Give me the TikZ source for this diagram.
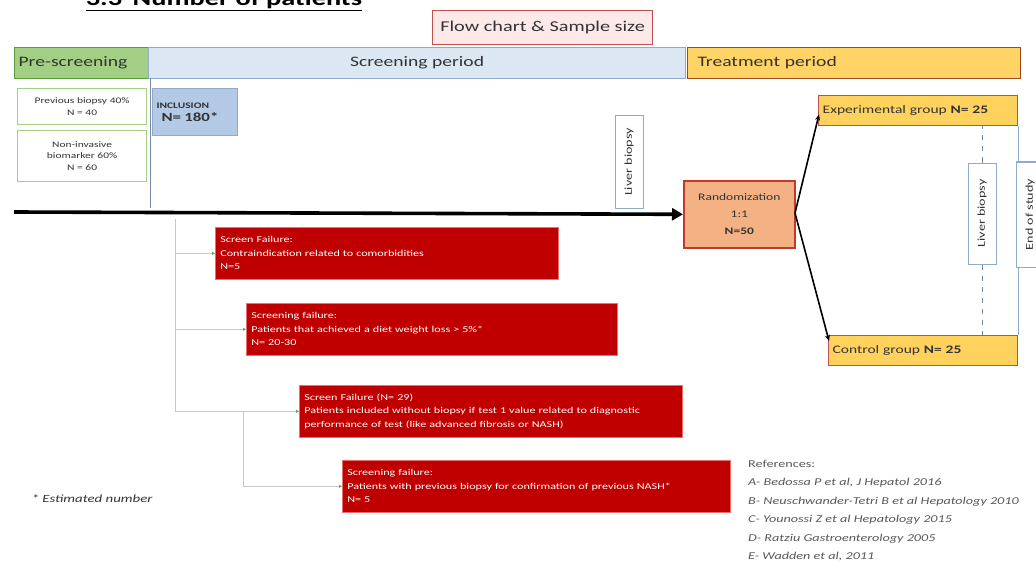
\documentclass[tikz,border=0pt]{standalone}
\usepackage{fontspec}
\setmainfont{Carlito}[FakeStretch=1.35]
\usetikzlibrary{calc,arrows.meta}
\definecolor{preF}{HTML}{A3CF85}
\definecolor{preD}{HTML}{5E9A3C}
\definecolor{scrF}{HTML}{DCE7F4}
\definecolor{scrD}{HTML}{90AACB}
\definecolor{trtF}{HTML}{FFD366}
\definecolor{trtD}{HTML}{9A4A1E}
\definecolor{flwF}{HTML}{FCE9E8}
\definecolor{flwD}{HTML}{C0504D}
\definecolor{incF}{HTML}{B4C9E6}
\definecolor{rndF}{HTML}{F4B183}
\definecolor{rndD}{HTML}{C0392B}
\definecolor{grpF}{HTML}{FFD25E}
\definecolor{redF}{HTML}{C00000}
\definecolor{redD}{HTML}{E87070}
\definecolor{conn}{HTML}{C8C8C8}
\definecolor{tipG}{HTML}{6AA84F}
\definecolor{txtD}{HTML}{333333}
\begin{document}
\begin{tikzpicture}[x=1pt,y=-1pt,
  basebox/.style={draw, anchor=north west, line width=1.2pt, inner sep=4pt},
  hdr/.style={basebox, minimum height=31pt, font=\fontsize{14.5}{16}\selectfont, text=txtD},
  greenbox/.style={basebox, draw=preF, fill=white, line width=1.2pt, align=center, font=\fontsize{8.5}{11.5}\selectfont, text=txtD},
  redbox/.style={basebox, draw=redD, fill=redF, line width=0.6pt, inner sep=5pt, align=left, text=white, minimum height=52pt, font=\fontsize{9}{13.5}\selectfont},
  grpbox/.style={basebox, draw=flwD, fill=grpF, line width=1.4pt, minimum height=30pt, align=left, font=\fontsize{11.5}{13}\selectfont, text=txtD},
  vbox/.style={draw=scrD, fill=white, line width=1pt, rotate=90, minimum height=28pt, inner sep=2pt, font=\fontsize{10.5}{12}\selectfont, text=txtD},
  gconn/.style={draw=conn, line width=0.8pt, -{Triangle[length=3pt,width=3pt,color=tipG]}},
  bconn/.style={draw=black, line width=1.6pt, -{Stealth[length=6pt,width=5pt]}}
]
\useasboundingbox (0,0) rectangle (1036,567);
\fill[white] (0,0) rectangle (1036,567);

% title (cut at top, as in the source)
\node[anchor=base, font=\fontsize{21}{22}\selectfont\bfseries, text=black] (title) at (224,6) {\underline{3.3\enspace Number of patients}};

% flow chart label
\node[basebox, draw=flwD, fill=flwF, line width=1.2pt, minimum width=220pt, minimum height=34pt, font=\fontsize{15}{17}\selectfont, text=txtD] (flow) at (432,10) {Flow chart \& Sample size};

% headers
\node[hdr, draw=preD, fill=preF, text width=126pt, align=left] (pre) at (14,47) {Pre-screening};
\node[hdr, draw=scrD, fill=scrF, minimum width=537pt, align=center] (scr) at (148,47) {Screening period};
\node[hdr, draw=trtD, fill=trtF, text width=325pt, align=left] (trt) at (687,47) {\hspace{6pt}Treatment period};

% left boxes
\node[greenbox, minimum width=129pt, minimum height=36pt] (prev) at (17,88) {Previous biopsy 40\%\\N = 40};
\node[greenbox, minimum width=129pt, minimum height=51pt] (noninv) at (17,130) {Non-invasive\\biomarker 60\%\\N = 60};

% separator
\coordinate (sepT) at (150,78);
\coordinate (sepB) at (150,208);
\draw[draw=scrD!80!black, line width=0.8pt] (sepT) -- (sepB);

% inclusion
\node[basebox, draw=scrD, fill=incF, line width=1pt, minimum width=85pt, minimum height=47pt, text width=77pt, align=left, inner sep=4pt, text=txtD] (incl) at (152,88)
  {{\fontsize{8.5}{10}\selectfont\bfseries INCLUSION}\\[1pt]{\fontsize{12.5}{14}\selectfont\bfseries \hspace{5pt}N= 180*}};

% liver biopsy 1
\node[vbox, minimum width=92pt] (lb1) at (629,162) {Liver biopsy};

% randomization
\node[basebox, draw=rndD, fill=rndF, line width=1.6pt, minimum width=111pt, minimum height=67pt, align=center, font=\fontsize{10}{17}\selectfont, text=txtD] (rand) at (683,180) {Randomization\\1:1\\\textbf{N=50}};

% main arrow
\coordinate (mstart) at (14,212);
\draw[line width=3.6pt, -{Triangle[length=11pt,width=12pt]}] (mstart) -- (rand.west);

% groups
\node[grpbox, text width=191pt] (exp) at (818,95) {Experimental group \textbf{N= 25}};
\node[grpbox, text width=181pt] (ctrl) at (828,335) {Control group \textbf{N= 25}};

% branch lines
\coordinate (split) at (795,213);
\draw[bconn] (split) -- ($(exp.south west)+(1,-12)$);
\draw[bconn] (split) -- ($(ctrl.north west)+(1,6)$);

% liver biopsy 2 with dashed line
\node[vbox, minimum width=101pt] (lb2) at (982,213.5) {Liver biopsy};
\draw[draw=scrD!80!black, line width=0.9pt, dash pattern=on 5pt off 6pt] (lb2.east) -- (lb2.east |- exp.south);
\draw[draw=scrD!80!black, line width=0.9pt, dash pattern=on 5pt off 6pt] (lb2.west) -- (lb2.west |- ctrl.north);

% end of study
\draw[draw=scrD, line width=1pt] (exp.south east) -- (ctrl.north east);
\node[vbox, minimum width=105pt] (eos) at (1030,214.5) {End of study};

% screen failure boxes
\node[redbox, text width=333pt] (f1) at (215,227) {Screen Failure:\\Contraindication related to comorbidities\\N=5};
\node[redbox, text width=361pt] (f2) at (246,303) {Screening failure:\\Patients that achieved a diet weight loss \textgreater{} 5\%*\\N= 20-30};
\node[redbox, text width=373pt] (f3) at (299,385) {Screen Failure (N= 29)\\Patients included without biopsy if test 1 value related to diagnostic\\performance of test (like advanced fibrosis or NASH)};
\node[redbox, text width=378pt] (f4) at (342,460) {Screening failure:\\Patients with previous biopsy for confirmation of previous NASH*\\N= 5};

% green connectors
\coordinate (v1) at (175,219);
\coordinate (v2) at (243,412);
\draw[draw=conn, line width=0.8pt] (v1) -- (v1 |- f3.west);
\draw[gconn] (v1 |- f1.west) -- (f1.west);
\draw[gconn] (v1 |- f2.west) -- (f2.west);
\draw[gconn] (v1 |- f3.west) -- (f3.west);
\draw[gconn] (v2) |- (f4.west);

% footnote
\node[anchor=west, font=\fontsize{11}{12}\selectfont\itshape, text=txtD] (note) at (28,499) {* Estimated number};

% references
\node[anchor=north west, align=left, font=\fontsize{10.5}{18.5}\selectfont\itshape, text=black!65, inner sep=0pt] (refs) at (748,460)
{\upshape References:\\A- Bedossa P et al, J Hepatol 2016\\B- Neuschwander-Tetri B et al Hepatology 2010\\C- Younossi Z et al Hepatology 2015\\D- Ratziu Gastroenterology 2005\\E- Wadden et al, 2011};
\end{tikzpicture}
\end{document}
